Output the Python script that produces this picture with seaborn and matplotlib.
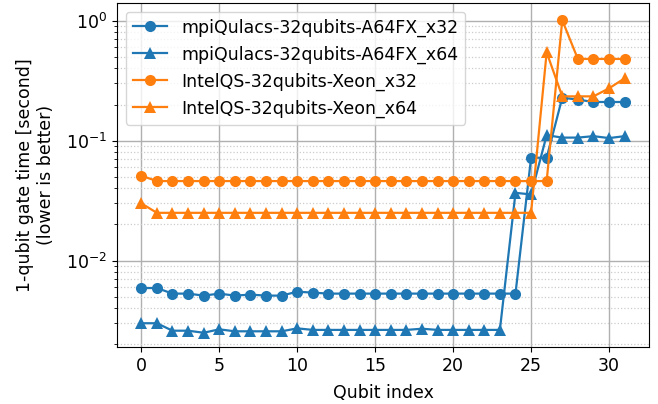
import numpy as np
import pandas as pd
import matplotlib
matplotlib.use("Agg")
import matplotlib.pyplot as plt
import seaborn as sns

qubits = list(range(32))

mpi_x32 = [0.0059, 0.0059, 0.0053, 0.0053, 0.0051, 0.0053, 0.0051, 0.0052, 0.0051, 0.0051,
           0.0055, 0.0054, 0.0053, 0.0053, 0.0053, 0.0053, 0.0053, 0.0053, 0.0053, 0.0053,
           0.0053, 0.0053, 0.0053, 0.0053, 0.0053, 0.072, 0.072, 0.228, 0.22, 0.21, 0.21, 0.21]
mpi_x64 = [0.0030, 0.0030, 0.0026, 0.0026, 0.0025, 0.00267, 0.00257, 0.00257, 0.00257, 0.00257,
           0.00272, 0.00264, 0.00264, 0.00264, 0.00264, 0.00264, 0.00264, 0.00264, 0.0027, 0.00264,
           0.00264, 0.00264, 0.00264, 0.00264, 0.0367, 0.0356, 0.111, 0.106, 0.106, 0.109, 0.105, 0.109]
intel_x32 = [0.051] + [0.046] * 26 + [1.01, 0.48, 0.48, 0.48, 0.48]
intel_x64 = [0.030] + [0.025] * 25 + [0.545, 0.234, 0.234, 0.234, 0.273, 0.331]

labels = ["mpiQulacs-32qubits-A64FX_x32", "mpiQulacs-32qubits-A64FX_x64",
          "IntelQS-32qubits-Xeon_x32", "IntelQS-32qubits-Xeon_x64"]
series = [mpi_x32, mpi_x64, intel_x32, intel_x64]

df = pd.concat([pd.DataFrame({"Qubit index": qubits, "time": s, "label": l})
                for s, l in zip(series, labels)], ignore_index=True)

plt.rcParams["font.family"] = ["DejaVu Sans"]
plt.rcParams["font.size"] = 12.5

fig, ax = plt.subplots(figsize=(6.58, 4.04), dpi=100)
fig.subplots_adjust(left=0.178, right=0.986, top=0.993, bottom=0.141)

palette = {labels[0]: "#1f77b4", labels[1]: "#1f77b4", labels[2]: "#ff7f0e", labels[3]: "#ff7f0e"}
markers = {labels[0]: "o", labels[1]: "^", labels[2]: "o", labels[3]: "^"}

sns.lineplot(data=df, x="Qubit index", y="time", hue="label", style="label",
             hue_order=labels, style_order=labels, palette=palette, markers=markers,
             dashes=False, markersize=8, markeredgewidth=0, linewidth=1.6, ax=ax)

ax.set_yscale("log")
ax.set_xlim(-1.55, 32.55)
ax.set_ylim(1.9e-3, 1.41)
ax.set_xticks([0, 5, 10, 15, 20, 25, 30])
ax.grid(True, which="major", color="#b0b0b0", linewidth=1.0)
ax.grid(True, which="minor", axis="y", color="#cccccc", linestyle=":", linewidth=0.9)
ax.set_axisbelow(True)
ax.set_xlabel("Qubit index", labelpad=6.5)
ax.set_ylabel("1-qubit gate time [second]\n(lower is better)", labelpad=8)
leg = ax.legend(loc="upper left", title=None)

fig.savefig("out.png", dpi=100)
